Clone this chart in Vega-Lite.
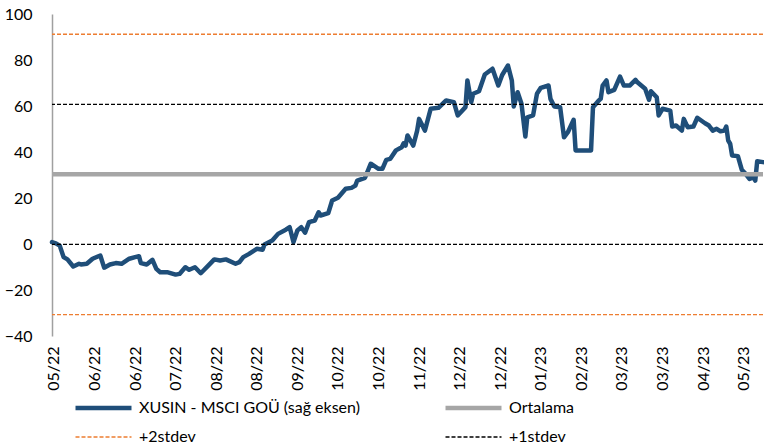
{
  "$schema": "https://vega.github.io/schema/vega-lite/v6.json",
  "width": 711,
  "height": 322,
  "autosize": {"type": "none"},
  "padding": {"left": 52, "top": 14, "right": 1, "bottom": 109},
  "background": "white",
  "datasets": {
    "xusin": [
      {"date": "2022-05-12", "value": 0.8},
      {"date": "2022-05-14", "value": 0.3},
      {"date": "2022-05-16", "value": -0.7},
      {"date": "2022-05-18", "value": -5.7},
      {"date": "2022-05-20", "value": -6.7},
      {"date": "2022-05-23", "value": -9.8},
      {"date": "2022-05-26", "value": -8.6},
      {"date": "2022-05-27", "value": -8.9},
      {"date": "2022-05-30", "value": -8.6},
      {"date": "2022-06-02", "value": -6.4},
      {"date": "2022-06-06", "value": -5.0},
      {"date": "2022-06-08", "value": -10.3},
      {"date": "2022-06-11", "value": -8.9},
      {"date": "2022-06-14", "value": -8.3},
      {"date": "2022-06-17", "value": -8.6},
      {"date": "2022-06-21", "value": -6.4},
      {"date": "2022-06-24", "value": -5.7},
      {"date": "2022-06-26", "value": -5.3},
      {"date": "2022-06-27", "value": -8.3},
      {"date": "2022-06-30", "value": -8.9},
      {"date": "2022-07-03", "value": -6.9},
      {"date": "2022-07-05", "value": -10.8},
      {"date": "2022-07-07", "value": -12.3},
      {"date": "2022-07-11", "value": -12.3},
      {"date": "2022-07-15", "value": -13.3},
      {"date": "2022-07-17", "value": -13.0},
      {"date": "2022-07-20", "value": -10.1},
      {"date": "2022-07-22", "value": -11.2},
      {"date": "2022-07-25", "value": -10.1},
      {"date": "2022-07-28", "value": -12.7},
      {"date": "2022-08-01", "value": -9.3},
      {"date": "2022-08-04", "value": -6.7},
      {"date": "2022-08-07", "value": -7.2},
      {"date": "2022-08-10", "value": -6.7},
      {"date": "2022-08-15", "value": -8.6},
      {"date": "2022-08-17", "value": -7.9},
      {"date": "2022-08-19", "value": -5.7},
      {"date": "2022-08-22", "value": -4.3},
      {"date": "2022-08-26", "value": -2.1},
      {"date": "2022-08-29", "value": -2.5},
      {"date": "2022-08-30", "value": -0.2},
      {"date": "2022-09-03", "value": 1.5},
      {"date": "2022-09-06", "value": 4.4},
      {"date": "2022-09-10", "value": 6.2},
      {"date": "2022-09-12", "value": 7.3},
      {"date": "2022-09-14", "value": 0.8},
      {"date": "2022-09-16", "value": 5.9},
      {"date": "2022-09-18", "value": 7.3},
      {"date": "2022-09-20", "value": 4.9},
      {"date": "2022-09-22", "value": 9.5},
      {"date": "2022-09-25", "value": 10.2},
      {"date": "2022-09-27", "value": 13.8},
      {"date": "2022-09-28", "value": 12.4},
      {"date": "2022-10-02", "value": 13.4},
      {"date": "2022-10-04", "value": 18.9},
      {"date": "2022-10-07", "value": 20.1},
      {"date": "2022-10-11", "value": 24.0},
      {"date": "2022-10-14", "value": 24.4},
      {"date": "2022-10-16", "value": 25.4},
      {"date": "2022-10-17", "value": 27.6},
      {"date": "2022-10-21", "value": 28.8},
      {"date": "2022-10-24", "value": 34.9},
      {"date": "2022-10-28", "value": 32.7},
      {"date": "2022-10-30", "value": 32.7},
      {"date": "2022-11-01", "value": 36.6},
      {"date": "2022-11-03", "value": 37.0},
      {"date": "2022-11-06", "value": 40.7},
      {"date": "2022-11-09", "value": 42.1},
      {"date": "2022-11-10", "value": 43.8},
      {"date": "2022-11-11", "value": 42.8},
      {"date": "2022-11-12", "value": 47.2},
      {"date": "2022-11-15", "value": 42.8},
      {"date": "2022-11-17", "value": 49.3},
      {"date": "2022-11-18", "value": 54.4},
      {"date": "2022-11-21", "value": 49.3},
      {"date": "2022-11-24", "value": 58.8},
      {"date": "2022-11-28", "value": 59.2},
      {"date": "2022-12-02", "value": 62.4},
      {"date": "2022-12-06", "value": 61.7},
      {"date": "2022-12-08", "value": 55.9},
      {"date": "2022-12-12", "value": 59.5},
      {"date": "2022-12-13", "value": 71.1},
      {"date": "2022-12-15", "value": 61.7},
      {"date": "2022-12-16", "value": 65.3},
      {"date": "2022-12-19", "value": 66.4},
      {"date": "2022-12-22", "value": 73.7},
      {"date": "2022-12-26", "value": 76.2},
      {"date": "2022-12-29", "value": 68.9},
      {"date": "2022-12-31", "value": 73.5},
      {"date": "2023-01-03", "value": 77.6},
      {"date": "2023-01-05", "value": 71.1},
      {"date": "2023-01-06", "value": 59.8},
      {"date": "2023-01-08", "value": 66.0},
      {"date": "2023-01-10", "value": 61.0},
      {"date": "2023-01-12", "value": 46.7},
      {"date": "2023-01-13", "value": 55.1},
      {"date": "2023-01-16", "value": 55.9},
      {"date": "2023-01-18", "value": 65.3},
      {"date": "2023-01-20", "value": 67.9},
      {"date": "2023-01-24", "value": 68.9},
      {"date": "2023-01-25", "value": 63.1},
      {"date": "2023-01-27", "value": 59.8},
      {"date": "2023-01-30", "value": 59.5},
      {"date": "2023-02-01", "value": 46.4},
      {"date": "2023-02-03", "value": 48.6},
      {"date": "2023-02-06", "value": 54.0},
      {"date": "2023-02-07", "value": 40.7},
      {"date": "2023-02-15", "value": 40.7},
      {"date": "2023-02-16", "value": 59.5},
      {"date": "2023-02-19", "value": 62.4},
      {"date": "2023-02-20", "value": 63.1},
      {"date": "2023-02-21", "value": 68.9},
      {"date": "2023-02-23", "value": 71.1},
      {"date": "2023-02-24", "value": 66.0},
      {"date": "2023-02-27", "value": 67.0},
      {"date": "2023-03-02", "value": 72.8},
      {"date": "2023-03-04", "value": 68.9},
      {"date": "2023-03-07", "value": 68.9},
      {"date": "2023-03-10", "value": 71.4},
      {"date": "2023-03-11", "value": 70.3},
      {"date": "2023-03-15", "value": 67.5},
      {"date": "2023-03-17", "value": 62.7},
      {"date": "2023-03-18", "value": 66.4},
      {"date": "2023-03-21", "value": 63.8},
      {"date": "2023-03-22", "value": 55.9},
      {"date": "2023-03-24", "value": 58.8},
      {"date": "2023-03-28", "value": 58.0},
      {"date": "2023-03-29", "value": 51.1},
      {"date": "2023-03-31", "value": 51.5},
      {"date": "2023-04-03", "value": 49.3},
      {"date": "2023-04-04", "value": 54.4},
      {"date": "2023-04-06", "value": 50.8},
      {"date": "2023-04-09", "value": 51.1},
      {"date": "2023-04-11", "value": 54.9},
      {"date": "2023-04-15", "value": 52.5},
      {"date": "2023-04-17", "value": 51.5},
      {"date": "2023-04-19", "value": 49.3},
      {"date": "2023-04-21", "value": 50.1},
      {"date": "2023-04-23", "value": 49.0},
      {"date": "2023-04-25", "value": 49.3},
      {"date": "2023-04-26", "value": 51.1},
      {"date": "2023-04-27", "value": 45.0},
      {"date": "2023-04-28", "value": 43.6},
      {"date": "2023-04-29", "value": 38.5},
      {"date": "2023-05-02", "value": 38.2},
      {"date": "2023-05-04", "value": 32.3},
      {"date": "2023-05-06", "value": 30.5},
      {"date": "2023-05-08", "value": 28.3},
      {"date": "2023-05-10", "value": 29.0},
      {"date": "2023-05-11", "value": 27.6},
      {"date": "2023-05-12", "value": 36.0},
      {"date": "2023-05-15", "value": 35.6}
    ],
    "levels": [
      {"series": "Ortalama", "value": 30.3},
      {"series": "+2stdev", "value": 91.2},
      {"series": "+1stdev", "value": 60.7},
      {"series": "-1stdev", "value": -0.2},
      {"series": "-2stdev", "value": -30.7}
    ]
  },
  "layer": [
    {
      "data": {"name": "xusin"},
      "mark": {"type": "line", "color": "#1F4E79", "strokeWidth": 4.5, "strokeJoin": "round", "strokeCap": "round"},
      "encoding": {
        "x": {
          "field": "date",
          "type": "temporal",
          "scale": {
            "type": "utc",
            "nice": false,
            "domain": [
              {"year": 2022, "month": 5, "date": 12, "utc": true},
              {"year": 2023, "month": 5, "date": 15, "utc": true}
            ]
          },
          "axis": {
            "title": null,
            "domain": false,
            "labelAngle": 270,
            "labelFontSize": 16,
            "labelPadding": 10,
            "labelExpr": "utcFormat(datum.value, '%m/%y')",
            "labelOverlap": false,
            "values": [
              {"year": 2022, "month": 5, "date": 13, "utc": true},
              {"year": 2022, "month": 6, "date": 3, "utc": true},
              {"year": 2022, "month": 6, "date": 24, "utc": true},
              {"year": 2022, "month": 7, "date": 15, "utc": true},
              {"year": 2022, "month": 8, "date": 5, "utc": true},
              {"year": 2022, "month": 8, "date": 26, "utc": true},
              {"year": 2022, "month": 9, "date": 16, "utc": true},
              {"year": 2022, "month": 10, "date": 7, "utc": true},
              {"year": 2022, "month": 10, "date": 28, "utc": true},
              {"year": 2022, "month": 11, "date": 18, "utc": true},
              {"year": 2022, "month": 12, "date": 9, "utc": true},
              {"year": 2022, "month": 12, "date": 30, "utc": true},
              {"year": 2023, "month": 1, "date": 20, "utc": true},
              {"year": 2023, "month": 2, "date": 10, "utc": true},
              {"year": 2023, "month": 3, "date": 3, "utc": true},
              {"year": 2023, "month": 3, "date": 24, "utc": true},
              {"year": 2023, "month": 4, "date": 14, "utc": true},
              {"year": 2023, "month": 5, "date": 5, "utc": true}
            ]
          }
        },
        "y": {
          "field": "value",
          "type": "quantitative",
          "scale": {"domain": [-40, 100], "nice": false, "zero": false},
          "axis": {
            "title": null,
            "values": [-40, -20, 0, 20, 40, 60, 80, 100],
            "domainColor": "#A0A0A0",
            "domainWidth": 1.5,
            "labelFontSize": 16,
            "labelPadding": 20
          }
        }
      }
    },
    {
      "data": {"name": "levels"},
      "mark": {"type": "rule"},
      "encoding": {
        "y": {"field": "value", "type": "quantitative"},
        "color": {
          "field": "series",
          "type": "nominal",
          "scale": {
            "domain": ["XUSIN - MSCI GOÜ (sağ eksen)", "Ortalama", "+2stdev", "+1stdev", "-1stdev", "-2stdev"],
            "range": ["#1F4E79", "#A6A6A6", "#ED7D31", "#000000", "#000000", "#ED7D31"]
          },
          "legend": {
            "title": null,
            "direction": "horizontal",
            "values": ["XUSIN - MSCI GOÜ (sağ eksen)", "Ortalama", "+2stdev", "+1stdev"]
          }
        },
        "strokeDash": {
          "field": "series",
          "type": "nominal",
          "scale": {
            "domain": ["XUSIN - MSCI GOÜ (sağ eksen)", "Ortalama", "+2stdev", "+1stdev", "-1stdev", "-2stdev"],
            "range": [[1, 0], [1, 0], [4, 2], [4, 2], [4, 2], [4, 2]]
          },
          "legend": {
            "title": null,
            "direction": "horizontal",
            "values": ["XUSIN - MSCI GOÜ (sağ eksen)", "Ortalama", "+2stdev", "+1stdev"]
          }
        },
        "strokeWidth": {
          "field": "series",
          "type": "nominal",
          "scale": {
            "type": "ordinal",
            "domain": ["XUSIN - MSCI GOÜ (sağ eksen)", "Ortalama", "+2stdev", "+1stdev", "-1stdev", "-2stdev"],
            "range": [4.5, 4.5, 1.3, 1.3, 1.3, 1.3]
          },
          "legend": {
            "title": null,
            "direction": "horizontal",
            "values": ["XUSIN - MSCI GOÜ (sağ eksen)", "Ortalama", "+2stdev", "+1stdev"]
          }
        }
      }
    }
  ],
  "config": {
    "view": {"stroke": null},
    "font": "Lato",
    "axis": {"labelFont": "Lato", "labelColor": "#000000", "grid": false, "ticks": false},
    "legend": {
      "orient": "none",
      "direction": "horizontal",
      "legendX": 21,
      "legendY": 384,
      "columns": 2,
      "symbolType": "stroke",
      "symbolSize": 3136,
      "clipHeight": 20,
      "labelFont": "Lato",
      "labelFontSize": 16,
      "labelColor": "#000000",
      "labelOffset": 5,
      "labelLimit": 400,
      "rowPadding": 9,
      "columnPadding": 83,
      "padding": 0
    }
  }
}
